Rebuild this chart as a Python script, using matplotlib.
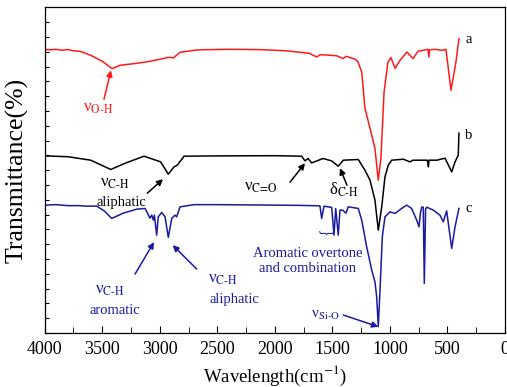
import numpy as np
import matplotlib
matplotlib.use("Agg")
import matplotlib.pyplot as plt
from matplotlib.ticker import MultipleLocator

plt.rcParams['font.family'] = ['Liberation Serif', 'DejaVu Serif']
plt.rcParams['mathtext.fontset'] = 'stix'

# wavenumber (cm-1) and transmittance (a.u., curves offset)
wn_a = [4000, 3950, 3900, 3850, 3800, 3750, 3693, 3600, 3500, 3415, 3345, 3200, 3085,
        2960, 2928, 2880, 2824, 2700, 2650, 2400, 2129, 1900, 1700, 1636, 1608, 1550,
        1460, 1408, 1380, 1300, 1277, 1245, 1217, 1173, 1130, 1101, 1078, 1051, 1017,
        991, 956, 912, 852, 799, 756, 669, 662, 655, 608, 547, 513, 469, 426, 400]
t_a = [284, 283.5, 284, 283, 283.8, 282.5, 282, 278, 272, 264.7, 268, 270, 272,
       275, 276, 275.5, 281, 283, 283.5, 284, 283.7, 282.5, 280, 276.3, 278.5, 278.3,
       277.5, 274.7, 277, 274, 271.3, 261.3, 225, 205, 185, 153, 175, 241, 271.3,
       275.7, 265, 273, 281.3, 274.7, 282, 284, 276.3, 283.5, 284, 283, 284, 243, 271.3, 294.7]

wn_b = [4000, 3800, 3600, 3426, 3300, 3137, 2992, 2926, 2876, 2848, 2789, 2500, 2000,
        1767, 1738, 1712, 1680, 1581, 1506, 1449, 1405, 1275, 1217, 1173, 1130, 1101,
        1071, 1043, 1014, 985, 884, 825, 800, 675, 666, 660, 593, 521, 463, 434, 406, 400]
t_b = [177.3, 176.5, 173, 163.7, 170, 177, 171.3, 159, 166.3, 168, 177, 177.3, 177.5,
       177, 172.3, 174.7, 170.3, 174.7, 172.3, 167, 173, 173.7, 163, 153, 133, 103,
       126.3, 156.3, 168, 173, 174, 171.3, 173, 173, 166.3, 173, 173, 175, 161.3, 171.3, 178, 200]

wn_c = [4000, 3900, 3800, 3700, 3640, 3548, 3480, 3418, 3317, 3200, 3128, 3085, 3070,
        3056, 3047, 3027, 3013, 2983, 2954, 2926, 2896, 2868, 2853, 2824, 2700, 2500,
        2000, 1800, 1608, 1593, 1573, 1506, 1486, 1471, 1449, 1434, 1410, 1382, 1362,
        1275, 1245, 1202, 1158, 1130, 1115, 1101, 1086, 1066, 1043, 999, 956, 898, 854,
        811, 767, 747, 735, 724, 710, 701, 690, 680, 623, 565, 536, 507, 463, 434, 400]
t_c = [128, 128.5, 127.5, 127.5, 127, 127, 122, 114.7, 120, 124, 124.7, 115, 118,
       113, 118, 98, 116.3, 120.7, 116.3, 95.7, 114.7, 118, 116.3, 126.3, 128.5, 128.5,
       128, 127.8, 127.3, 114.7, 127, 125.7, 98, 124.7, 98, 123, 123, 120, 126.3,
       124.7, 113, 86.3, 63, 51.3, 36.3, 6.3, 43, 96.3, 116.3, 121.3, 119.7, 124.7, 128,
       124.7, 113, 106.3, 120, 126, 126, 49.7, 124, 126, 123, 118, 111.3, 122.3, 84.7, 106.3, 124.7]

red = '#ff1a1a'
blue = '#1a1aa0'

fig = plt.figure(figsize=(5.07, 3.87), dpi=100)
ax = fig.add_axes([0.0882, 0.1395, 0.9078, 0.8415])
ax.plot(wn_a, t_a, color=red, lw=1.1)
ax.plot(wn_b, t_b, color='black', lw=1.1)
ax.plot(wn_c, t_c, color=blue, lw=1.1)

ax.set_xlim(4000, 0)
ax.set_ylim(0, 326)
ax.xaxis.set_major_locator(MultipleLocator(500))
ax.xaxis.set_minor_locator(MultipleLocator(250))
ax.set_yticks(np.arange(0, 326, 326 / 22))
ax.set_yticklabels([])
ax.tick_params(axis='both', which='both', direction='in', top=False, right=False)
ax.tick_params(axis='x', which='major', length=5, labelsize=13, pad=6)
ax.tick_params(axis='x', which='minor', length=4)
ax.tick_params(axis='y', length=3)
for s in ax.spines.values():
    s.set_linewidth(0.9)

ax.set_xlabel('Wavelength(cm$^{-1}$)', fontsize=13.5, labelpad=4)
ax.set_ylabel('Transmittance(%)', fontsize=18.5, labelpad=8)

def arrow(tail, head, c):
    ax.annotate('', xy=head, xytext=tail,
                arrowprops=dict(arrowstyle='-|>', color=c, lw=1.1, mutation_scale=9,
                                shrinkA=0, shrinkB=0))

fs = 10
ax.text(3540, 225, 'ν$_{\\text{O-H}}$', color=red, fontsize=fs + 2, ha='center', va='center')
arrow((3485, 234), (3424, 263), red)

ax.text(3389, 150, 'ν$_{\\text{C-H}}$', fontsize=fs + 2, ha='center', va='center')
ax.text(3337, 131, 'aliphatic', fontsize=fs + 0.5, ha='center', va='center')
arrow((3108, 140), (2972, 154), 'black')

ax.text(2120, 146, 'ν$_{\\text{C=O}}$', fontsize=fs + 2, ha='center', va='center')
arrow((1868, 151), (1738, 170), 'black')

ax.text(1399, 143, 'δ$_{\\text{C-H}}$', fontsize=fs + 2, ha='center', va='center')
arrow((1373, 148), (1434, 165), 'black')

ax.text(3432, 43, 'ν$_{\\text{C-H}}$', color=blue, fontsize=fs + 2, ha='center', va='center')
ax.text(3389, 23, 'aromatic', color=blue, fontsize=fs + 0.5, ha='center', va='center')
arrow((3215, 59), (3050, 91), blue)

ax.text(2450, 54, 'ν$_{\\text{C-H}}$', color=blue, fontsize=fs + 2, ha='center', va='center')
ax.text(2355, 34, 'aliphatic', color=blue, fontsize=fs + 0.5, ha='center', va='center')
arrow((2679, 64), (2888, 88), blue)

ax.text(1715, 72, 'Aromatic overtone\nand combination', color=blue, fontsize=fs + 0.5,
        ha='center', va='center', linespacing=1.15)
ax.text(1551, 94, '\ufe38', color=blue, fontsize=11, ha='center', va='center',
        family=['Noto Sans CJK SC', 'DejaVu Sans'])

ax.text(1564, 18, 'ν$_{\\text{Si-O}}$', color=blue, fontsize=fs + 1, ha='center', va='center')
arrow((1405, 18), (1101, 6.3), blue)

ax.text(313, 294, 'a', fontsize=fs + 0.5, ha='center', va='center')
ax.text(313, 198, 'b', fontsize=fs + 0.5, ha='center', va='center')
ax.text(313, 125, 'c', fontsize=fs + 0.5, ha='center', va='center')

fig.savefig('out.png', dpi=100)
